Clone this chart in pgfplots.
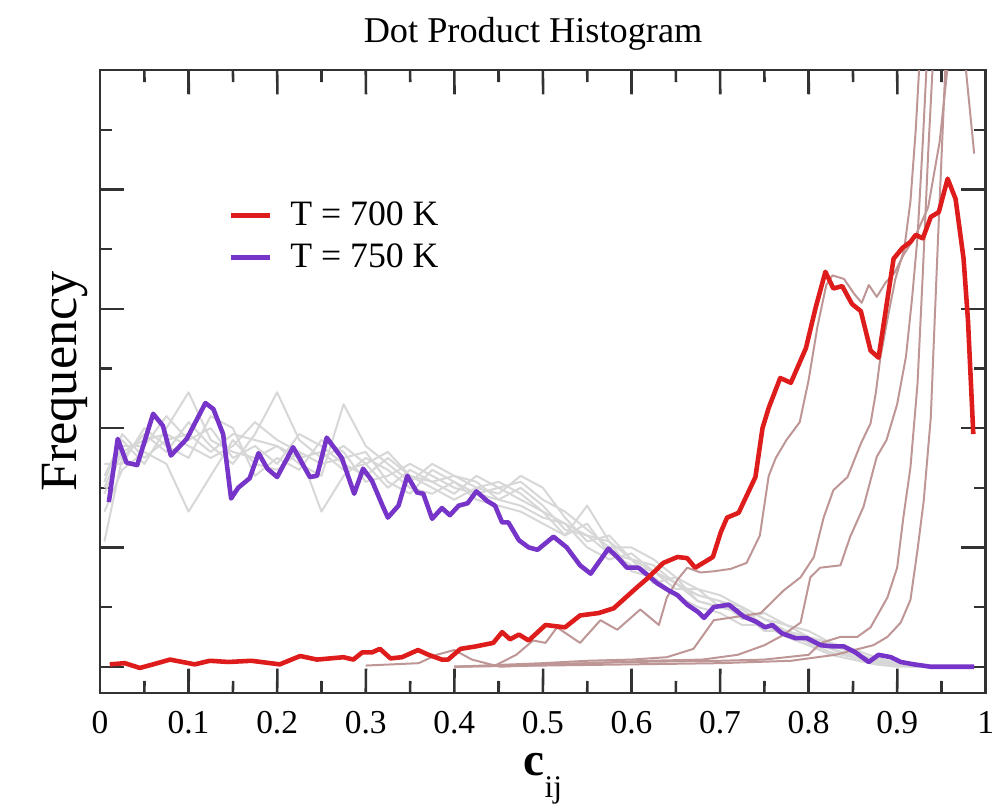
\documentclass[border=0pt]{standalone}
\usepackage{fontspec}
\setmainfont{Liberation Serif}
\usepackage{pgfplots}
\pgfplotsset{compat=1.18}
\definecolor{redT}{RGB}{222,28,28}
\definecolor{purT}{RGB}{118,52,200}
\definecolor{grayln}{RGB}{215,215,215}
\definecolor{brownln}{RGB}{190,150,150}
\definecolor{axln}{RGB}{50,50,50}
\pgfplotsset{
  grun/.style={color=grayln, line width=0.7pt, forget plot, line join=round},
  brun/.style={color=brownln, line width=0.7pt, forget plot, line join=round},
  tk/.style={color=axln, line width=0.9pt, forget plot},
}
\begin{document}
\begin{tikzpicture}
\path[use as bounding box] (-35pt,-41.3pt) rectangle (313.25pt,242.55pt);
\begin{axis}[
  at={(0,0)}, anchor=south west,
  width=310pt, height=218pt, scale only axis,
  xmin=0, xmax=1, ymin=-0.22, ymax=5,
  xtick={0,0.1,0.2,0.3,0.4,0.5,0.6,0.7,0.8,0.9,1},
  xticklabels={0,0.1,0.2,0.3,0.4,0.5,0.6,0.7,0.8,0.9,1},
  minor xtick={0.05,0.15,0.25,0.35,0.45,0.55,0.65,0.75,0.85,0.95},
  ytick={0,1,2,3,4,5}, minor ytick={0.5,1.5,2.5,3.5,4.5}, yticklabels={},
  xtick pos=both, ytick pos=both,
  tick align=inside,
  major tick length=8.5pt, minor tick length=4.2pt,
  axis line style={line width=0.9pt, axln},
  tick style={draw=axln, line width=0.8pt},
  xticklabel style={font=\fontsize{11.7}{13}\selectfont},
  xticklabel shift=2.8pt,
  title={Dot Product Histogram},
  title style={font=\fontsize{12.7}{14}\selectfont, at={(axis description cs:0.489,1.045)}, anchor=base, yshift=-6pt},
  ylabel={Frequency},
  ylabel style={font=\fontsize{18.3}{20}\selectfont, at={(axis description cs:-0.04,0.5)}, anchor=center},
  xlabel={{\fontsize{16.5}{17}\selectfont\bfseries c}\raisebox{-7.5pt}{\fontsize{11}{11}\selectfont ij}},
  xlabel style={at={(axis description cs:0.5,-0.133)}, anchor=base},
  legend style={draw=none, fill=none, inner sep=0pt,
    at={(axis description cs:0.1446,0.7945)}, anchor=north west,
    font=\fontsize{12.5}{13}\selectfont, row sep=2.9pt,
    nodes={inner sep=1pt}},
  legend cell align=left,
  legend image code/.code={\draw[#1] (0pt,0pt) -- (13.7pt,0pt); \path (19pt,0pt);},
  reverse legend,
]
% x tick marks, bottom edge (long every 0.1, short halfway)
\addplot[tk] coordinates {(0.1,-0.24) (0.1003,-0.0165)};
\addplot[tk] coordinates {(0.2,-0.24) (0.2003,-0.0165)};
\addplot[tk] coordinates {(0.3,-0.24) (0.3003,-0.0165)};
\addplot[tk] coordinates {(0.4,-0.24) (0.4003,-0.0165)};
\addplot[tk] coordinates {(0.5,-0.24) (0.5003,-0.0165)};
\addplot[tk] coordinates {(0.6,-0.24) (0.6003,-0.0165)};
\addplot[tk] coordinates {(0.7,-0.24) (0.7003,-0.0165)};
\addplot[tk] coordinates {(0.8,-0.24) (0.8003,-0.0165)};
\addplot[tk] coordinates {(0.9,-0.24) (0.9003,-0.0165)};
\addplot[tk] coordinates {(0.05,-0.24) (0.0503,-0.1194)};
\addplot[tk] coordinates {(0.15,-0.24) (0.1503,-0.1194)};
\addplot[tk] coordinates {(0.25,-0.24) (0.2503,-0.1194)};
\addplot[tk] coordinates {(0.35,-0.24) (0.3503,-0.1194)};
\addplot[tk] coordinates {(0.45,-0.24) (0.4503,-0.1194)};
\addplot[tk] coordinates {(0.55,-0.24) (0.5503,-0.1194)};
\addplot[tk] coordinates {(0.65,-0.24) (0.6503,-0.1194)};
\addplot[tk] coordinates {(0.75,-0.24) (0.7503,-0.1194)};
\addplot[tk] coordinates {(0.85,-0.24) (0.8503,-0.1194)};
\addplot[tk] coordinates {(0.95,-0.24) (0.9503,-0.1194)};
% x tick marks, top edge
\addplot[tk] coordinates {(0.1,5.02) (0.1003,4.7965)};
\addplot[tk] coordinates {(0.2,5.02) (0.2003,4.7965)};
\addplot[tk] coordinates {(0.3,5.02) (0.3003,4.7965)};
\addplot[tk] coordinates {(0.4,5.02) (0.4003,4.7965)};
\addplot[tk] coordinates {(0.5,5.02) (0.5003,4.7965)};
\addplot[tk] coordinates {(0.6,5.02) (0.6003,4.7965)};
\addplot[tk] coordinates {(0.7,5.02) (0.7003,4.7965)};
\addplot[tk] coordinates {(0.8,5.02) (0.8003,4.7965)};
\addplot[tk] coordinates {(0.9,5.02) (0.9003,4.7965)};
\addplot[tk] coordinates {(0.05,5.02) (0.0503,4.8994)};
\addplot[tk] coordinates {(0.15,5.02) (0.1503,4.8994)};
\addplot[tk] coordinates {(0.25,5.02) (0.2503,4.8994)};
\addplot[tk] coordinates {(0.35,5.02) (0.3503,4.8994)};
\addplot[tk] coordinates {(0.45,5.02) (0.4503,4.8994)};
\addplot[tk] coordinates {(0.55,5.02) (0.5503,4.8994)};
\addplot[tk] coordinates {(0.65,5.02) (0.6503,4.8994)};
\addplot[tk] coordinates {(0.75,5.02) (0.7503,4.8994)};
\addplot[tk] coordinates {(0.85,5.02) (0.8503,4.8994)};
\addplot[tk] coordinates {(0.95,5.02) (0.9503,4.8994)};
% T = 750 K runs (light gray)
\addplot[grun] table {
0.005 1.05
0.025 1.75
0.05 1.95
0.075 1.8
0.1 2.05
0.125 1.85
0.15 1.7
0.175 1.95
0.2 2.3
0.225 1.9
0.25 1.75
0.275 1.85
0.3 1.7
0.325 1.5
0.35 1.65
0.375 1.55
0.4 1.45
0.425 1.6
0.45 1.5
0.475 1.4
0.5 1.3
0.525 1.1
0.55 1.2
0.575 0.95
0.6 0.9
0.625 0.7
0.65 0.75
0.675 0.55
0.7 0.5
0.725 0.45
0.75 0.3
0.775 0.3
0.8 0.2
0.825 0.15
0.85 0.08
0.875 0.04
0.9 0.01
0.925 0
};
\addplot[grun] table {
0.005 1.6
0.025 1.9
0.05 1.7
0.075 2.0
0.1 2.3
0.125 1.9
0.15 1.8
0.175 1.75
0.2 1.85
0.225 1.7
0.25 1.6
0.275 2.2
0.3 1.85
0.325 1.7
0.35 1.55
0.375 1.7
0.4 1.6
0.425 1.5
0.45 1.45
0.475 1.6
0.5 1.5
0.525 1.25
0.55 1.05
0.575 1.1
0.6 0.9
0.625 0.85
0.65 0.7
0.675 0.6
0.7 0.55
0.725 0.5
0.75 0.4
0.775 0.3
0.8 0.25
0.825 0.2
0.85 0.12
0.875 0.06
0.9 0.02
0.925 0
};
\addplot[grun] table {
0.005 1.3
0.025 1.65
0.05 1.8
0.075 1.7
0.1 1.3
0.125 1.6
0.15 1.9
0.175 1.7
0.2 1.65
0.225 1.8
0.25 1.3
0.275 1.6
0.3 1.75
0.325 1.65
0.35 1.5
0.375 1.45
0.4 1.55
0.425 1.4
0.45 1.35
0.475 1.3
0.5 1.2
0.525 1.1
0.55 1.35
0.575 1.05
0.6 0.8
0.625 0.75
0.65 0.6
0.675 0.5
0.7 0.45
0.725 0.35
0.75 0.35
0.775 0.25
0.8 0.18
0.825 0.1
0.85 0.06
0.875 0.02
0.9 0
0.925 0
};
\addplot[grun] table {
0.005 1.5
0.025 1.85
0.05 1.85
0.075 2.1
0.1 1.9
0.125 2.0
0.15 1.75
0.175 1.85
0.2 1.7
0.225 1.95
0.25 1.85
0.275 1.7
0.3 1.6
0.325 1.75
0.35 1.6
0.375 1.5
0.4 1.4
0.425 1.5
0.45 1.55
0.475 1.45
0.5 1.3
0.525 1.2
0.55 1.0
0.575 0.9
0.6 0.95
0.625 0.8
0.65 0.65
0.675 0.65
0.7 0.5
0.725 0.45
0.75 0.35
0.775 0.25
0.8 0.22
0.825 0.18
0.85 0.12
0.875 0.05
0.9 0.02
0.925 0
};
\addplot[grun] table {
0.005 1.7
0.025 1.7
0.05 2.0
0.075 1.85
0.1 1.75
0.125 2.1
0.15 2.0
0.175 1.6
0.2 1.75
0.225 1.65
0.25 1.9
0.275 1.8
0.3 1.55
0.325 1.6
0.35 1.7
0.375 1.6
0.4 1.5
0.425 1.45
0.45 1.4
0.475 1.5
0.5 1.35
0.525 1.15
0.55 1.1
0.575 0.95
0.6 0.85
0.625 0.8
0.65 0.7
0.675 0.6
0.7 0.55
0.725 0.4
0.75 0.45
0.775 0.35
0.8 0.25
0.825 0.15
0.85 0.1
0.875 0.05
0.9 0.02
0.925 0
};
\addplot[grun] table {
0.005 1.45
0.025 1.8
0.05 1.9
0.075 1.95
0.1 1.85
0.125 1.75
0.15 1.85
0.175 2.05
0.2 1.9
0.225 1.8
0.25 1.7
0.275 1.75
0.3 1.8
0.325 1.55
0.35 1.45
0.375 1.65
0.4 1.55
0.425 1.45
0.45 1.5
0.475 1.55
0.5 1.4
0.525 1.3
0.55 1.15
0.575 1.0
0.6 1.0
0.625 0.9
0.65 0.75
0.675 0.65
0.7 0.6
0.725 0.5
0.75 0.4
0.775 0.35
0.8 0.3
0.825 0.2
0.85 0.15
0.875 0.08
0.9 0.03
0.925 0
};
\addplot[grun] table {
0.005 1.55
0.025 1.95
0.05 1.75
0.075 1.9
0.1 1.95
0.125 1.8
0.15 1.95
0.175 1.9
0.2 1.85
0.225 1.75
0.25 1.8
0.275 1.65
0.3 1.7
0.325 1.8
0.35 1.6
0.375 1.55
0.4 1.6
0.425 1.55
0.45 1.4
0.475 1.35
0.5 1.25
0.525 1.2
0.55 1.1
0.575 1.05
0.6 0.9
0.625 0.8
0.65 0.7
0.675 0.55
0.7 0.5
0.725 0.48
0.75 0.35
0.775 0.3
0.8 0.2
0.825 0.12
0.85 0.08
0.875 0.03
0.9 0.01
0.925 0
};
% T = 700 K runs (rosy brown)
\addplot[brun] table {
0.30 0.01
0.36 0.03
0.38 0.10
0.40 0.14
0.42 0.06
0.446 0.01
0.47 0.10
0.489 0.22
0.503 0.20
0.516 0.33
0.530 0.26
0.542 0.20
0.565 0.39
0.584 0.31
0.610 0.48
0.631 0.35
0.640 0.58
0.652 0.73
0.663 0.83
0.678 0.79
0.693 0.80
0.712 0.82
0.730 0.87
0.745 1.10
0.755 1.60
0.763 1.75
0.775 1.90
0.790 2.05
0.800 2.40
0.810 2.85
0.820 3.20
0.827 3.28
0.840 3.25
0.852 3.12
0.860 3.05
0.868 3.20
0.877 3.10
0.887 3.22
0.897 3.30
0.907 3.45
0.920 3.60
0.935 3.85
0.948 4.40
0.958 5.10
0.966 5.60
0.974 5.30
0.979 4.90
0.987 4.30
};
\addplot[brun] table {
0.40 0.00
0.50 0.03
0.55 0.05
0.60 0.06
0.64 0.08
0.67 0.15
0.693 0.39
0.72 0.42
0.746 0.45
0.772 0.64
0.791 0.75
0.806 0.92
0.817 1.25
0.828 1.48
0.844 1.59
0.859 1.87
0.870 2.04
0.876 2.30
0.881 2.59
0.890 2.95
0.898 3.25
0.908 3.50
0.915 3.90
0.921 4.50
0.927 5.30
};
\addplot[brun] table {
0.45 0.00
0.55 0.03
0.62 0.05
0.68 0.06
0.72 0.10
0.75 0.18
0.77 0.26
0.791 0.37
0.802 0.75
0.813 0.83
0.836 0.85
0.847 1.09
0.862 1.34
0.877 1.76
0.888 1.90
0.900 2.20
0.910 2.60
0.917 3.10
0.923 3.60
0.929 4.40
0.935 5.30
};
\addplot[brun] table {
0.40 0.00
0.50 0.02
0.60 0.04
0.70 0.05
0.75 0.06
0.80 0.10
0.814 0.20
0.836 0.25
0.855 0.25
0.870 0.33
0.889 0.58
0.900 0.83
0.907 1.25
0.915 1.67
0.923 2.37
0.929 3.30
0.935 4.30
0.942 5.30
};
\addplot[brun] table {
0.40 0.00
0.50 0.01
0.60 0.02
0.70 0.03
0.78 0.05
0.83 0.10
0.873 0.18
0.889 0.25
0.904 0.37
0.915 0.56
0.923 0.98
0.930 1.39
0.938 2.09
0.941 2.65
0.946 3.56
0.952 4.60
0.956 5.30
};
% T = 750 K
\addplot[color=purT, line width=1.6pt, line join=round] table {
0.010 1.38
0.020 1.91
0.030 1.71
0.042 1.69
0.060 2.12
0.071 2.02
0.080 1.77
0.098 1.91
0.119 2.21
0.128 2.16
0.139 1.95
0.148 1.41
0.156 1.50
0.169 1.58
0.179 1.79
0.189 1.66
0.200 1.59
0.218 1.84
0.237 1.59
0.245 1.60
0.256 1.92
0.273 1.75
0.287 1.45
0.297 1.66
0.307 1.56
0.319 1.35
0.325 1.25
0.337 1.35
0.347 1.60
0.358 1.46
0.365 1.45
0.375 1.24
0.386 1.33
0.395 1.27
0.405 1.35
0.415 1.37
0.425 1.47
0.437 1.39
0.446 1.35
0.454 1.21
0.461 1.21
0.473 1.06
0.484 1.00
0.494 0.98
0.512 1.09
0.527 1.00
0.542 0.85
0.554 0.78
0.574 0.99
0.584 0.92
0.595 0.83
0.608 0.83
0.618 0.77
0.629 0.70
0.642 0.64
0.652 0.60
0.663 0.52
0.675 0.46
0.682 0.41
0.693 0.50
0.710 0.52
0.727 0.42
0.740 0.38
0.751 0.33
0.759 0.35
0.770 0.28
0.785 0.24
0.798 0.24
0.814 0.18
0.829 0.17
0.840 0.17
0.853 0.12
0.868 0.04
0.879 0.10
0.893 0.08
0.904 0.04
0.919 0.02
0.938 0.00
0.987 0.00
};
\addlegendentry{T = 750 K}
% T = 700 K
\addplot[color=redT, line width=1.6pt, line join=round] table {
0.011 0.02
0.028 0.03
0.045 -0.01
0.060 0.02
0.079 0.06
0.107 0.02
0.124 0.05
0.145 0.04
0.171 0.05
0.203 0.02
0.226 0.09
0.245 0.06
0.275 0.08
0.286 0.06
0.296 0.12
0.307 0.12
0.316 0.15
0.328 0.07
0.341 0.08
0.359 0.14
0.371 0.10
0.386 0.06
0.393 0.06
0.407 0.15
0.424 0.17
0.444 0.20
0.454 0.29
0.463 0.23
0.473 0.27
0.484 0.22
0.503 0.35
0.525 0.33
0.542 0.43
0.563 0.45
0.580 0.49
0.607 0.67
0.618 0.74
0.636 0.87
0.652 0.92
0.663 0.91
0.672 0.83
0.692 0.92
0.701 1.13
0.708 1.25
0.721 1.29
0.740 1.59
0.748 2.00
0.755 2.17
0.768 2.42
0.780 2.38
0.797 2.67
0.808 3.01
0.819 3.31
0.828 3.17
0.838 3.19
0.849 3.04
0.859 2.98
0.870 2.65
0.879 2.59
0.896 3.42
0.906 3.51
0.915 3.56
0.921 3.62
0.929 3.59
0.938 3.77
0.947 3.81
0.957 4.09
0.966 3.92
0.975 3.42
0.980 2.90
0.986 1.95
};
\addlegendentry{T = 700 K}
\end{axis}
\end{tikzpicture}
\end{document}
